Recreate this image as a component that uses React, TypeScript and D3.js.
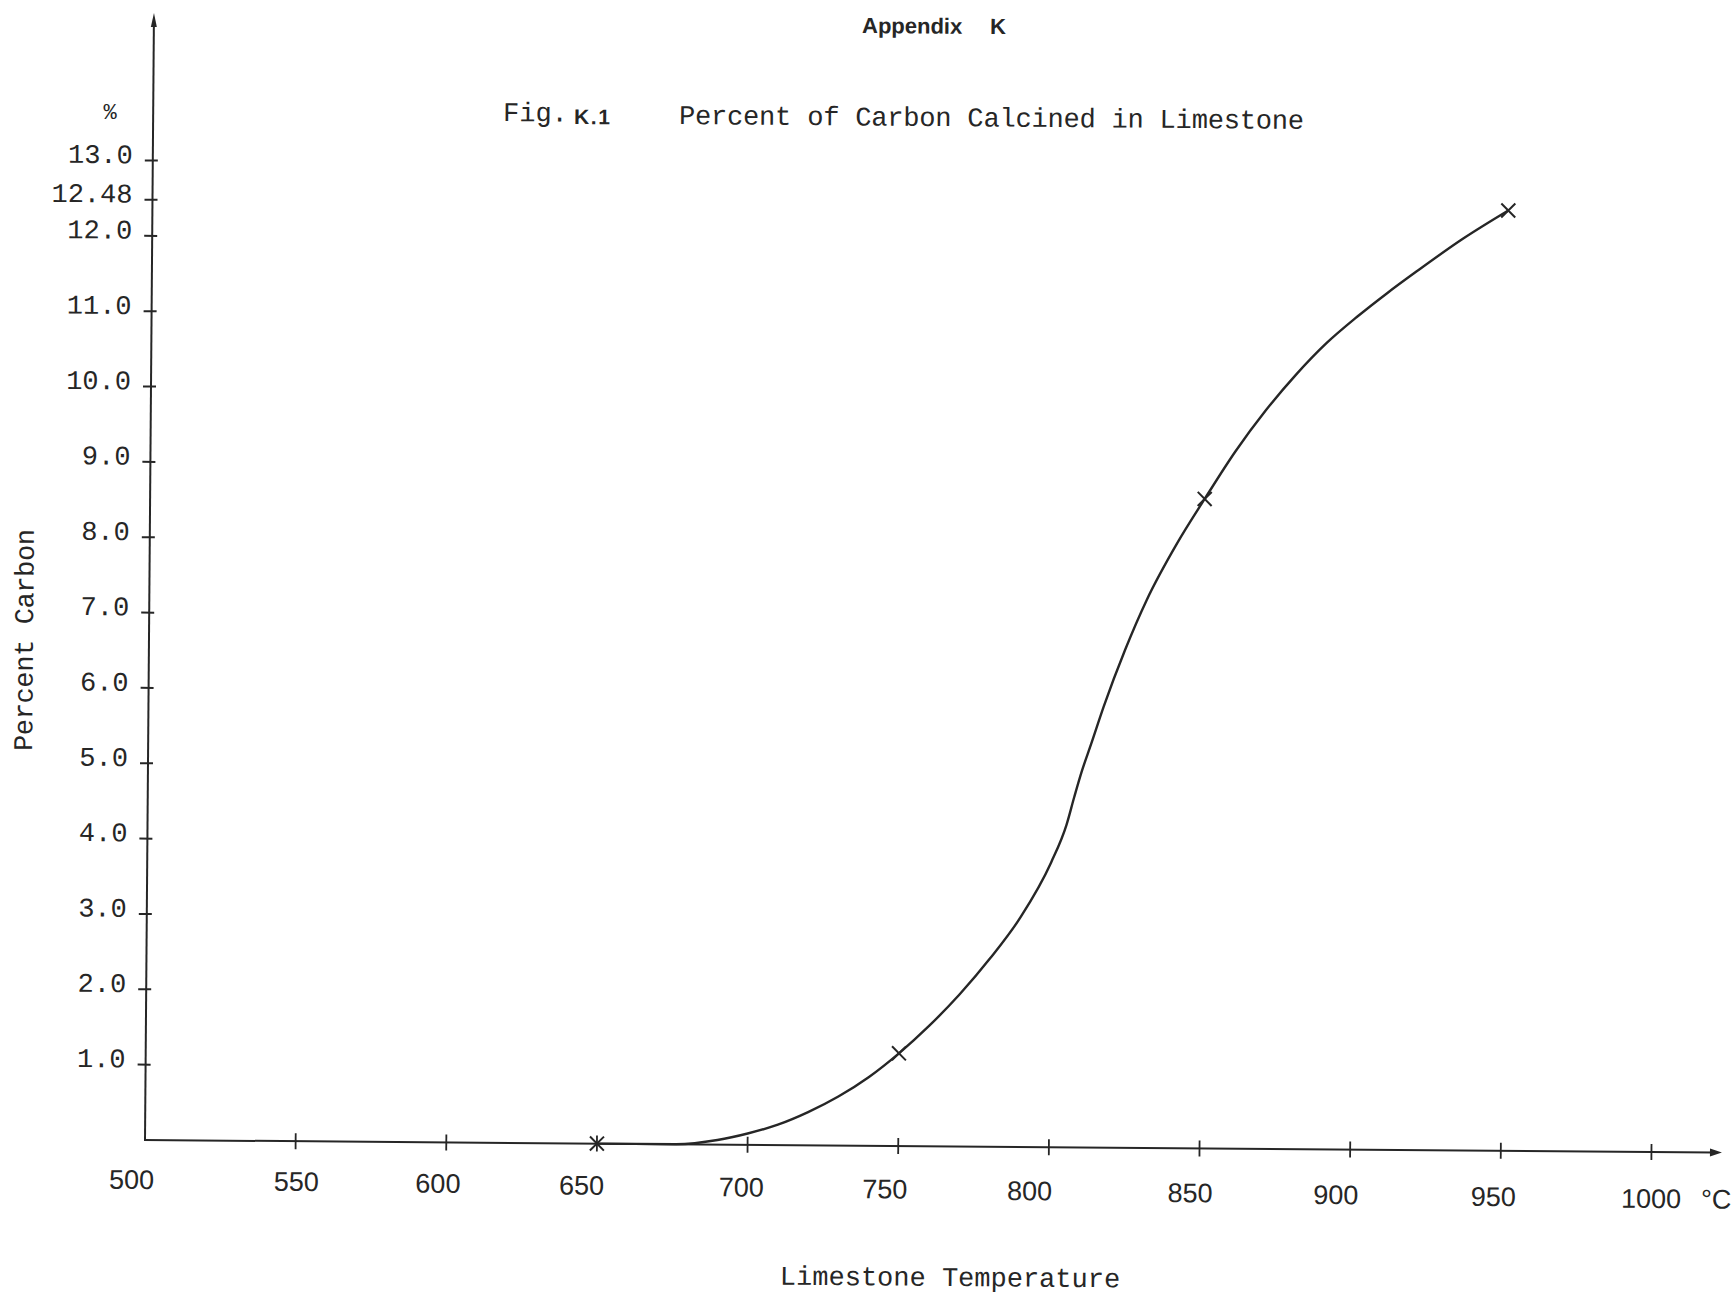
import React from "react";
import * as d3 from "d3";

// temperature axis (deg C)
const tempTicks = [500, 550, 600, 650, 700, 750, 800, 850, 900, 950, 1000];
const tempLabels = ["500", "550", "600", "650", "700", "750", "800", "850", "900", "950", "1000"];

// percent carbon axis
const pctTicks = [1, 2, 3, 4, 5, 6, 7, 8, 9, 10, 11, 12, 12.48, 13];
const pctLabels = ["1.0", "2.0", "3.0", "4.0", "5.0", "6.0", "7.0", "8.0", "9.0", "10.0", "11.0", "12.0", "12.48", "13.0"];

// measured points (x markers)
const pointTemp = [650, 750, 850, 950];
const pointPct = [0, 1.23, 8.62, 12.48];

// hand drawn curve
const curveTemp = [650, 676, 690, 700, 710, 720, 730, 740, 750, 760, 770, 780, 790, 800, 805, 807.5, 810, 813, 817, 824, 831, 841, 850, 860, 870, 880, 890, 900, 910, 920, 935, 950];
const curvePct = [0, 0, 0.06, 0.15, 0.27, 0.44, 0.65, 0.91, 1.23, 1.6, 2.02, 2.5, 3.05, 3.78, 4.28, 4.65, 5.0, 5.36, 5.85, 6.61, 7.27, 8.03, 8.62, 9.25, 9.8, 10.28, 10.7, 11.05, 11.37, 11.67, 12.1, 12.48];

const W = 1735;
const H = 1300;
const X0 = 145;
const Y0 = 1140;
const TILT = 0.456; // the scan is a little skewed
const xLabelNudge = [-13, 1, -8, -15, -6, -13, -19, -9, -14, -7, 0];

const mono = "'Liberation Mono', 'Courier New', monospace";
const sans = "'Liberation Sans', Arial, sans-serif";
const ink = "#262626";

export default function App() {
  const x = d3.scaleLinear().domain([500, 1000]).range([X0, 1651.5]);
  const y = d3.scaleLinear().domain([0, 13]).range([Y0, 160.5]);

  const curve = curveTemp.map((t, i) => [t, curvePct[i]] as [number, number]);
  const line = d3
    .line<[number, number]>()
    .x((d) => x(d[0]))
    .y((d) => y(d[1]))
    .curve(d3.curveMonotoneX);

  const yTop = 13;
  const xEnd = 1722;

  const rot = (px: number, py: number) => `rotate(${TILT}, ${px}, ${py})`;

  return (
    <svg
      width={W}
      height={H}
      style={{ position: "absolute", left: 0, top: 0, background: "#fff" }}
    >
      <rect width={W} height={H} fill="#fff" />

      <g transform={rot(X0, Y0)}>
        {/* axes */}
        <line x1={X0} y1={Y0} x2={X0} y2={yTop + 10} stroke={ink} strokeWidth={2} />
        <path d={`M${X0},${yTop} L${X0 - 3},${yTop + 14} L${X0 + 3},${yTop + 14} Z`} fill={ink} />
        <line x1={X0 - 1} y1={Y0} x2={xEnd - 8} y2={Y0} stroke={ink} strokeWidth={2} />
        <path d={`M${xEnd},${Y0} L${xEnd - 12},${Y0 - 4} L${xEnd - 12},${Y0 + 4} Z`} fill={ink} />

        {/* y ticks */}
        {pctTicks.map((v, i) => (
          <g key={"yt" + i}>
            <line x1={X0 - 8} x2={X0 + 5} y1={y(v)} y2={y(v)} stroke={ink} strokeWidth={2} />
            <text
              x={X0 - 20}
              y={y(v) + 3}
              textAnchor="end"
              fontFamily={mono}
              fontSize={27}
              fill={ink}
            >
              {pctLabels[i]}
            </text>
          </g>
        ))}

        {/* x ticks */}
        {tempTicks.map((t, i) => (
          <g key={"xt" + i}>
            {t > 500 && (
              <line x1={x(t)} x2={x(t)} y1={Y0 - 8} y2={Y0 + 8} stroke={ink} strokeWidth={1.8} />
            )}
            <text
              x={x(t) + xLabelNudge[i]}
              y={Y0 + 49 + (7 * i) / 10}
              textAnchor="middle"
              fontFamily={sans}
              fontSize={27}
              fill={ink}
            >
              {tempLabels[i]}
            </text>
          </g>
        ))}
        <text
          x={x(1000) + 50}
          y={Y0 + 56}
          fontFamily={sans}
          fontSize={27}
          fill={ink}
        >
          °C
        </text>

        {/* curve */}
        <path d={line(curve) || ""} fill="none" stroke={ink} strokeWidth={2.4} />

        {/* points */}
        {pointTemp.map((t, i) => {
          const cx = x(t);
          const cy = y(pointPct[i]);
          const s = 7;
          return (
            <path
              key={"p" + i}
              d={`M${cx - s},${cy - s} L${cx + s},${cy + s} M${cx - s},${cy + s} L${cx + s},${cy - s}`}
              stroke={ink}
              strokeWidth={2}
            />
          );
        })}
      </g>

      {/* texts */}
      <text
        x={862}
        y={33}
        fontFamily={sans}
        fontWeight={700}
        fontSize={22}
        fill={ink}
        transform={rot(862, 33)}
      >
        Appendix
        <tspan x={990}>K</tspan>
      </text>
      <text x={503} y={121} fontFamily={mono} fontSize={27} fill={ink} transform={rot(503, 121)}>
        Fig.
      </text>
      <text
        x={574}
        y={124}
        fontFamily={sans}
        fontWeight={700}
        fontSize={21}
        textLength={36}
        lengthAdjust="spacing"
        fill={ink}
        transform={rot(574, 124)}
      >
        K.1
      </text>
      <text
        x={679}
        y={124}
        fontFamily={mono}
        fontSize={27}
        textLength={625}
        lengthAdjust="spacing"
        fill={ink}
        transform={rot(679, 124)}
      >
        Percent of Carbon Calcined in Limestone
      </text>
      <text x={110} y={119} textAnchor="middle" fontFamily={mono} fontSize={22} fill={ink}>
        %
      </text>
      <text
        transform={`translate(33, 640) rotate(${-90 + TILT})`}
        textAnchor="middle"
        fontFamily={mono}
        fontSize={27}
        textLength={222}
        lengthAdjust="spacing"
        fill={ink}
      >
        Percent Carbon
      </text>
      <text
        x={950}
        y={1286}
        textAnchor="middle"
        fontFamily={mono}
        fontSize={27}
        fill={ink}
        transform={rot(950, 1286)}
      >
        Limestone Temperature
      </text>
    </svg>
  );
}
